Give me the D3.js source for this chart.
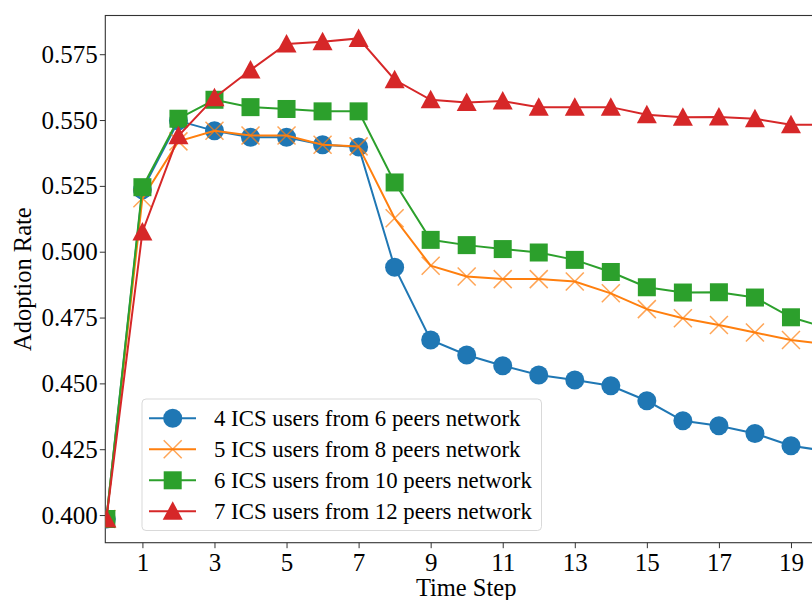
<!DOCTYPE html>
<html>
<head>
<meta charset="utf-8">
<script src="https://cdn.jsdelivr.net/npm/d3@7"></script>
<style>
  body { margin: 0; background: #fff; }
  svg { display: block; }
  svg text { font-family: "Liberation Serif", "Times New Roman", Times, serif !important; }
</style>
</head>
<body>
<script>
const width = 812;
const height = 600;
const margins = { top: 15.5, right: -15, bottom: 57.3, left: 105.3 };

// time steps and the four adoption rate series
const steps = d3.range(0, 21);
const tickSteps = [1, 3, 5, 7, 9, 11, 13, 15, 17, 19];
const yTicks = [0.4, 0.425, 0.45, 0.475, 0.5, 0.525, 0.55, 0.575];

const ics4 = [0.3985, 0.5235, 0.5497, 0.5459, 0.5435, 0.5435, 0.5406, 0.5398, 0.4941, 0.4665,
  0.4608, 0.4567, 0.4532, 0.4513, 0.4491, 0.4434, 0.4358, 0.4339, 0.431, 0.4263, 0.4243];
const ics5 = [0.3985, 0.5203, 0.5419, 0.5459, 0.5441, 0.5441, 0.5406, 0.54, 0.5127, 0.4947,
  0.4906, 0.4896, 0.4896, 0.4887, 0.4842, 0.4782, 0.4747, 0.4722, 0.4693, 0.4665, 0.4648];
const ics6 = [0.3985, 0.5245, 0.5505, 0.5577, 0.5549, 0.5542, 0.5533, 0.5533, 0.5263, 0.5045,
  0.5025, 0.501, 0.4997, 0.4969, 0.4923, 0.4865, 0.4845, 0.4846, 0.4826, 0.4751, 0.4711];
const ics7 = [0.3985, 0.5075, 0.544, 0.5585, 0.569, 0.5789, 0.5797, 0.581, 0.5653, 0.5577,
  0.5567, 0.5572, 0.5549, 0.5549, 0.5549, 0.552, 0.5511, 0.5512, 0.5505, 0.5482, 0.5483];

const names = [
  "4 ICS users from 6 peers network",
  "5 ICS users from 8 peers network",
  "6 ICS users from 10 peers network",
  "7 ICS users from 12 peers network",
];
const colour = ["#1f77b4", "#ff7f0e", "#2ca02c", "#d62728"];
const shapes = ["circle", "cross", "square", "triangle"];

const series = [ics4, ics5, ics6, ics7].map((v, i) => ({
  name: names[i],
  colour: colour[i],
  shape: shapes[i],
  values: v.map((d, j) => ({ x: steps[j], y: d })),
}));

const svg = d3
  .select("body")
  .append("svg")
  .attr("width", width)
  .attr("height", height)
  .style("overflow", "hidden");

const x = d3
  .scaleLinear()
  .domain([-0.03, 20])
  .range([margins.left, width - margins.right]);
const y = d3
  .scaleLinear()
  .domain([0.3895, 0.5897])
  .range([height - margins.bottom, margins.top]);

svg
  .append("clipPath")
  .attr("id", "plot-clip")
  .append("rect")
  .attr("x", margins.left)
  .attr("y", margins.top)
  .attr("width", width - margins.right - margins.left)
  .attr("height", height - margins.bottom - margins.top);

// axes
const xAxis = svg
  .append("g")
  .attr("transform", "translate(0," + (height - margins.bottom) + ")")
  .call(d3.axisBottom(x).tickValues(tickSteps).tickSize(5.5).tickPadding(5).tickFormat(d3.format("d")));
const yAxis = svg
  .append("g")
  .attr("transform", "translate(" + margins.left + ",0)")
  .call(d3.axisLeft(y).tickValues(yTicks).tickSize(5.5).tickPadding(2).tickFormat(d3.format(".3f")));

[xAxis, yAxis].forEach((g) => {
  g.select(".domain").remove();
  g.attr("font-size", 25);
  g.selectAll("line").attr("stroke", "#333").attr("stroke-width", 1);
  g.selectAll("text").attr("fill", "#000");
});

// spines
svg
  .append("rect")
  .attr("x", margins.left)
  .attr("y", margins.top)
  .attr("width", width - margins.right - margins.left)
  .attr("height", height - margins.bottom - margins.top)
  .attr("fill", "none")
  .attr("stroke", "#333")
  .attr("stroke-width", 1.1);

svg
  .append("text")
  .attr("x", (margins.left + width - margins.right) / 2)
  .attr("y", 596)
  .attr("text-anchor", "middle")
  .attr("font-size", 24.5)
  .text("Time Step");

svg
  .append("text")
  .attr("transform", "translate(31," + (margins.top + height - margins.bottom) / 2 + ") rotate(-90)")
  .attr("text-anchor", "middle")
  .attr("font-size", 24.5)
  .text("Adoption Rate");

function drawMarker(g, shape, c) {
  if (shape == "circle") {
    g.append("circle").attr("r", 9.5).attr("fill", c);
  } else if (shape == "square") {
    g.append("rect").attr("x", -9).attr("y", -9).attr("width", 18).attr("height", 18).attr("fill", c);
  } else if (shape == "triangle") {
    g.append("path").attr("d", "M0,-10L10,8.5L-10,8.5Z").attr("fill", c);
  } else {
    g.append("path")
      .attr("d", "M-9,-9L9,9M-9,9L9,-9")
      .attr("stroke", c)
      .attr("stroke-width", 1.5)
      .attr("stroke-opacity", 0.7)
      .attr("fill", "none");
  }
}

const line = d3
  .line()
  .x((d) => x(d.x))
  .y((d) => y(d.y));

const plot = svg.append("g").attr("clip-path", "url(#plot-clip)");

series.forEach((s) => {
  const g = plot.append("g");
  g.append("path")
    .datum(s.values)
    .attr("d", line)
    .attr("fill", "none")
    .attr("stroke", s.colour)
    .attr("stroke-width", 2);
  g.selectAll(".mk")
    .data(s.values)
    .join("g")
    .attr("class", "mk")
    .attr("transform", (d) => "translate(" + x(d.x) + "," + y(d.y) + ")")
    .each(function () {
      drawMarker(d3.select(this), s.shape, s.colour);
    });
});

// legend
const legend = svg.append("g").attr("transform", "translate(142,399)");
legend
  .append("rect")
  .attr("width", 399.5)
  .attr("height", 131.5)
  .attr("rx", 4)
  .attr("fill", "#fff")
  .attr("fill-opacity", 0.8)
  .attr("stroke", "#d9d9d9")
  .attr("stroke-width", 1);

const rows = legend
  .selectAll(".row")
  .data(series)
  .join("g")
  .attr("class", "row")
  .attr("transform", (d, i) => "translate(0," + (19.3 + i * 31) + ")");

rows
  .append("line")
  .attr("x1", 7)
  .attr("x2", 54)
  .attr("stroke", (d) => d.colour)
  .attr("stroke-width", 2);

rows.each(function (d) {
  drawMarker(d3.select(this).append("g").attr("transform", "translate(30.7,0)"), d.shape, d.colour);
});

rows
  .append("text")
  .attr("x", 72)
  .attr("y", 7.8)
  .attr("font-size", 22.8)
  .text((d) => d.name);
</script>
</body>
</html>
